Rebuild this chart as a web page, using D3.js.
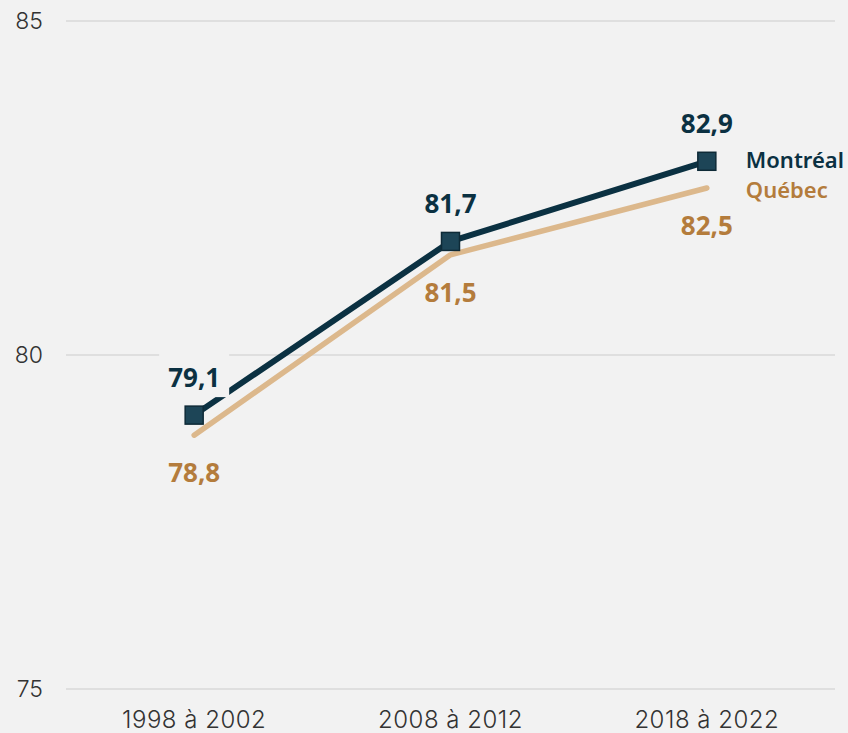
<!DOCTYPE html>
<html><head><meta charset="utf-8">
<script src="https://cdn.jsdelivr.net/npm/d3@7"></script>
<style>
html,body{margin:0;padding:0;background:#f2f2f2;}
svg{display:block;}
</style></head>
<body>
<svg id="chart" width="848" height="733"></svg>
<script>
const categories = ["1998 à 2002", "2008 à 2012", "2018 à 2022"];
const montreal = [79.1, 81.7, 82.9];
const quebec = [78.8, 81.5, 82.5];
const yTicks = [75, 80, 85];
const seriesNames = ["Montréal", "Québec"];
const fmt = v => d3.format(".1f")(v).replace(".", ",");

const W = 848, H = 733;
const svg = d3.select("#chart");
svg.append("rect").attr("width", W).attr("height", H).attr("fill", "#f2f2f2");

const x = d3.scalePoint().domain(categories).range([66, 835]).padding(0.5);
const y = d3.scaleLinear().domain([75, 85]).range([689, 21]);

const AX = "Inter, 'Liberation Sans', sans-serif";
const LB = "'Noto Sans', 'Open Sans', sans-serif";

// grid
svg.append("g").selectAll("line").data(yTicks).join("line")
  .attr("x1", 66).attr("x2", 835)
  .attr("y1", d => y(d)).attr("y2", d => y(d))
  .attr("stroke", "#d9d9d9").attr("stroke-width", 1.5);

// y labels
svg.append("g").selectAll("text").data(yTicks).join("text")
  .attr("x", 43).attr("y", d => y(d)).attr("dy", "0.36em")
  .attr("text-anchor", "end")
  .attr("font-family", AX).attr("font-weight", 300).attr("font-size", 23).attr("fill", "#333")
  .text(d => d);

// x labels
svg.append("g").selectAll("text").data(categories).join("text")
  .attr("x", d => x(d)).attr("y", 728)
  .attr("text-anchor", "middle")
  .attr("font-family", AX).attr("font-weight", 300).attr("font-size", 24)
  .attr("letter-spacing", "0.5px").attr("fill", "#333")
  .text(d => d);

const line = d3.line().x((d, i) => x(categories[i])).y(d => y(d));

const MCOL = "#0b3142", QCOL = "#dcb88c", QLAB = "#b47c3c";

svg.append("path").datum(quebec).attr("d", line)
  .attr("fill", "none").attr("stroke", QCOL).attr("stroke-width", 5.5)
  .attr("stroke-linecap", "round").attr("stroke-linejoin", "round");

svg.append("path").datum(montreal).attr("d", line)
  .attr("fill", "none").attr("stroke", MCOL).attr("stroke-width", 6)
  .attr("stroke-linejoin", "round");

// markers
const ms = 18;
svg.append("g").selectAll("rect").data(montreal).join("rect")
  .attr("x", (d, i) => x(categories[i]) - ms / 2)
  .attr("y", d => y(d) - ms / 2)
  .attr("width", ms).attr("height", ms)
  .attr("fill", "#1d4557").attr("stroke", "#0e2a37").attr("stroke-width", 1.5);

// data labels
function labels(data, color, off, bg) {
  const g = svg.append("g");
  data.forEach((v, i) => {
    const cx = x(categories[i]);
    const by = y(v) + off;
    if (bg) g.append("rect").attr("x", cx - 35).attr("y", by - 38)
      .attr("width", 70).attr("height", 48).attr("fill", "#f2f2f2");
    g.append("text").attr("x", cx).attr("y", by)
      .attr("text-anchor", "middle")
      .attr("font-family", LB).attr("font-weight", 700).attr("font-size", 26)
      .attr("fill", color).text(fmt(v));
  });
}
labels(montreal, MCOL, -28, true);
labels(quebec, QLAB, 47, false);

// legend labels
const lx = x(categories[2]) + 39;
svg.append("text").attr("x", lx).attr("y", y(montreal[2]) + 7)
  .attr("font-family", LB).attr("font-weight", 600).attr("font-size", 22)
  .attr("fill", MCOL).text(seriesNames[0]);
svg.append("text").attr("x", lx).attr("y", y(quebec[2]) + 10)
  .attr("font-family", LB).attr("font-weight", 600).attr("font-size", 22)
  .attr("fill", QLAB).text(seriesNames[1]);
</script>
</body></html>
